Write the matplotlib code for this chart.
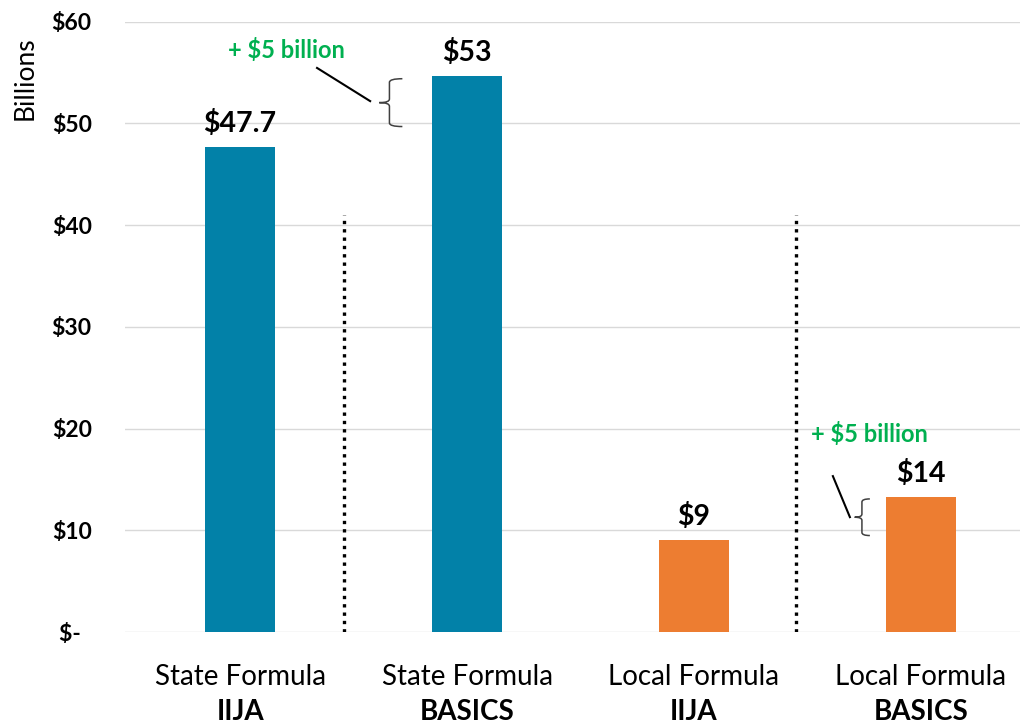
import matplotlib.pyplot as plt
from matplotlib.path import Path
from matplotlib.patches import PathPatch

plt.rcParams['font.family'] = ['Lato', 'DejaVu Sans']

# data
programs = ['State Formula', 'State Formula', 'Local Formula', 'Local Formula']
bills = ['IIJA', 'BASICS', 'IIJA', 'BASICS']
values = [47.7, 54.7, 9.1, 13.3]
value_labels = ['$47.7', '$53', '$9', '$14']
bar_colors = ['#0281A8', '#0281A8', '#ED7D31', '#ED7D31']
yticks = [0, 10, 20, 30, 40, 50, 60]
ytick_labels = ['$-  ', '$10', '$20', '$30', '$40', '$50', '$60']
increase_label = '+ $5 billion'

fig = plt.figure(figsize=(10.25, 7.25), dpi=100)
ax = fig.add_axes([0.122, 0.128, 0.873, 0.842])

x = list(range(len(values)))
ax.bar(x, values, width=0.31, color=bar_colors, zorder=3)

for xi, v, lab in zip(x, values, value_labels):
    ax.annotate(lab, (xi, v), xytext=(0, 7), textcoords='offset points',
                ha='center', va='bottom', fontsize=20.5, fontweight='bold',
                color='black')

ax.set_xlim(-0.507, 3.436)
ax.set_ylim(0, 60)
ax.set_yticks(yticks)
ax.set_yticklabels(ytick_labels, fontsize=16.5, fontweight='bold')
ax.tick_params(axis='y', length=0, pad=24)
ax.set_xticks([])
ax.grid(axis='y', color='#D9D9D9', lw=1, zorder=0)
for s in ax.spines.values():
    s.set_visible(False)

# two-line category labels
tr = ax.get_xaxis_transform()
for xi, p, b in zip(x, programs, bills):
    ax.text(xi, -0.074, p, transform=tr, ha='center', va='center', fontsize=20)
    ax.text(xi, -0.131, b, transform=tr, ha='center', va='center', fontsize=20,
            fontweight='bold')

# dotted separators
for sx in [0.458, 2.45]:
    ax.plot([sx, sx], [0, 41], color='black', lw=2.4, ls=(0, (1, 1.5)), zorder=4)

# curly braces showing the increase
def brace(x0, top, bottom, cusp, tick, r):
    mid = (top + bottom) / 2
    verts = [(x0 + tick, top), (x0, top), (x0, top - r),
             (x0, mid + r), (x0, mid), (x0 - cusp, mid),
             (x0 - cusp, mid), (x0, mid), (x0, mid - r),
             (x0, bottom + r), (x0, bottom), (x0 + tick, bottom)]
    codes = [Path.MOVETO, Path.CURVE3, Path.CURVE3,
             Path.LINETO, Path.CURVE3, Path.CURVE3,
             Path.MOVETO, Path.CURVE3, Path.CURVE3,
             Path.LINETO, Path.CURVE3, Path.CURVE3]
    ax.add_patch(PathPatch(Path(verts, codes), fill=False, edgecolor='#404040',
                           lw=1.1, zorder=4))

brace(0.658, 54.4, 49.7, 0.045, 0.057, 0.35)
ax.plot([0.339, 0.573], [55.46, 52.2], color='black', lw=1.5, zorder=4)
ax.text(0.203, 57.2, increase_label, ha='center', va='center', fontsize=17,
        fontweight='bold', color='#00B050')

brace(2.740, 13.1, 9.5, 0.032, 0.035, 0.3)
ax.plot([2.612, 2.687], [15.34, 11.31], color='black', lw=1.5, zorder=4)
ax.text(2.771, 19.5, increase_label, ha='center', va='center', fontsize=17,
        fontweight='bold', color='#00B050')

fig.text(25 / 1025, 1 - 78 / 725, 'Billions', rotation=90, ha='center',
         va='center', fontsize=19)

fig.savefig('out.png', dpi=100)
